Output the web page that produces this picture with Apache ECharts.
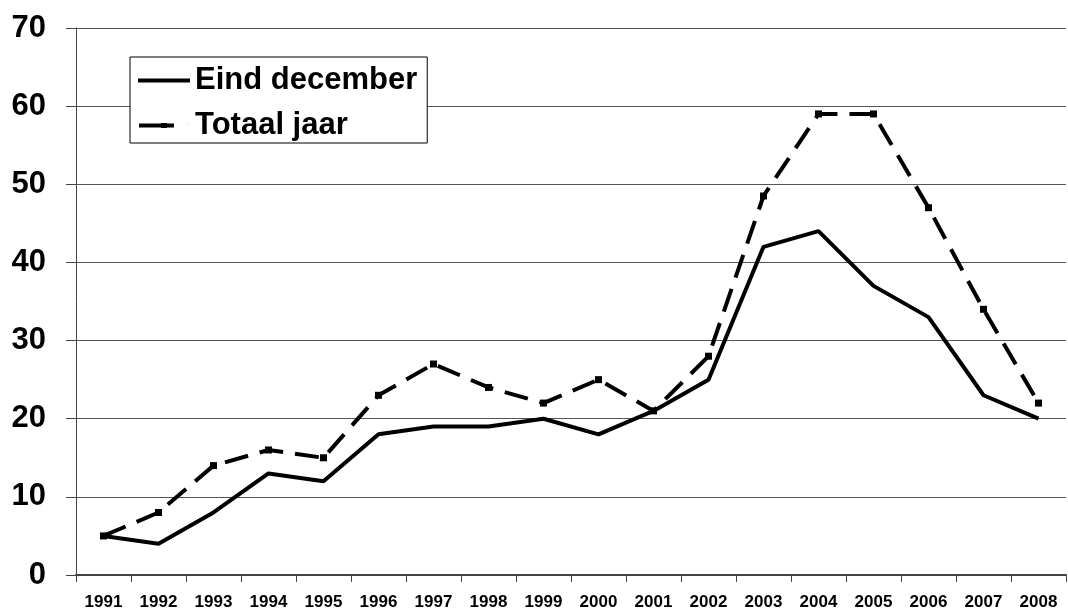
<!DOCTYPE html>
<html>
<head>
<meta charset="utf-8">
<script src="https://cdn.jsdelivr.net/npm/echarts@6/dist/echarts.min.js"></script>
<style>
  html, body { margin: 0; padding: 0; background: #fff; }
  #chart { width: 1068px; height: 615px; }
</style>
</head>
<body>
<div id="chart"></div>
<script>
// jaren op de x-as
const years = ['1991', '1992', '1993', '1994', '1995', '1996', '1997', '1998', '1999',
  '2000', '2001', '2002', '2003', '2004', '2005', '2006', '2007', '2008'];

// stand eind december
const eindDecember = [5, 4, 8, 13, 12, 18, 19, 19, 20, 18, 21, 25, 42, 44, 37, 33, 23, 20];

// totaal over het jaar
const totaalJaar = [5, 8, 14, 16, 15, 23, 27, 24, 22, 25, 21, 28, 48.5, 59, 59, 47, 34, 22];

const font = '"Liberation Sans", Arial, sans-serif';

// legenda-iconen: dikke lijn, en een streepje met blokje
const iconSolid = 'path://M0,0.5 L52,0.5 L52,4.5 L0,4.5 Z';
const iconDash = 'path://M2,0.5 L37,0.5 L37,4.5 L2,4.5 Z M24,0 L30,0 L30,5 L24,5 Z M51.9,0 L52,0 L52,5 Z';

const chart = echarts.init(document.getElementById('chart'));

chart.setOption({
  animation: false,
  backgroundColor: '#fff',
  grid: { left: 76, right: 2, top: 28, bottom: 40 },
  legend: {
    orient: 'vertical',
    left: 130,
    top: 57,
    padding: [8, 10, 2, 8],
    itemGap: 14,
    itemWidth: 52,
    itemHeight: 5,
    backgroundColor: '#fff',
    borderColor: '#000',
    borderWidth: 1,
    textStyle: { fontFamily: font, fontSize: 31, fontWeight: 'bold', color: '#000' },
    data: [
      { name: 'Eind december', icon: iconSolid },
      { name: 'Totaal jaar', icon: iconDash }
    ]
  },
  xAxis: {
    type: 'category',
    data: years,
    boundaryGap: true,
    axisLine: { lineStyle: { color: '#444', width: 2 } },
    axisTick: { show: true, length: 7, lineStyle: { color: '#444' } },
    axisLabel: {
      interval: 0,
      margin: 19,
      fontFamily: font,
      fontSize: 17,
      fontWeight: 'bold',
      color: '#000'
    }
  },
  yAxis: {
    type: 'value',
    min: 0,
    max: 70,
    interval: 10,
    axisLine: { show: true, lineStyle: { color: '#444', width: 1 } },
    axisTick: { show: true, length: 10, lineStyle: { color: '#444' } },
    splitLine: { lineStyle: { color: '#555', width: 1 } },
    axisLabel: {
      margin: 30,
      fontFamily: font,
      fontSize: 31,
      fontWeight: 'bold',
      color: '#000'
    }
  },
  series: [
    {
      name: 'Eind december',
      type: 'line',
      data: eindDecember,
      symbol: 'none',
      lineStyle: { color: '#000', width: 4 },
      itemStyle: { color: '#000' }
    },
    {
      name: 'Totaal jaar',
      type: 'line',
      data: totaalJaar,
      symbol: 'rect',
      symbolSize: 7,
      lineStyle: { color: '#000', width: 4, type: [24, 12] },
      itemStyle: { color: '#000' }
    }
  ]
});
</script>
</body>
</html>
